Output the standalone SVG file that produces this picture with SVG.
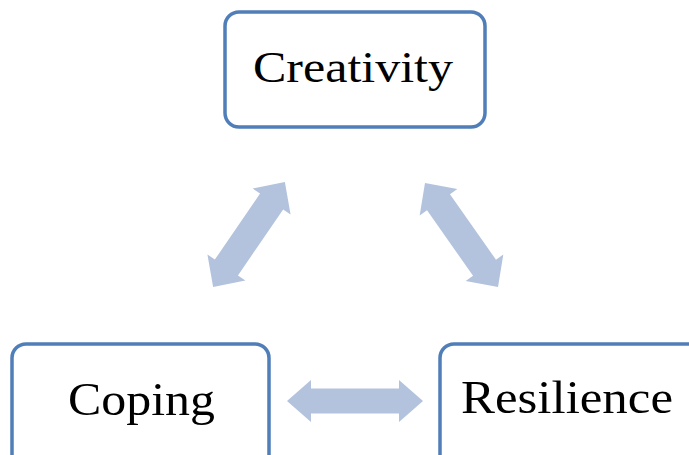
<svg xmlns="http://www.w3.org/2000/svg" width="689" height="455" viewBox="0 0 689 455">
<style>
.box{fill:#FFFFFF;stroke:#4F7EB8;stroke-width:3.5}
.lbl{font-family:"Liberation Serif","Times New Roman",serif;fill:#000000;text-anchor:middle}
.arr{fill:#B3C3DD;stroke:none}
</style>
<defs>
<polygon id="dbl" points="-68,0 -44,-21 -44,-12.5 44,-12.5 44,-21 68,0 44,21 44,12.5 -44,12.5 -44,21"/>
<polygon id="diag" points="-63.5,0 -40,-23 -40,-14 40,-14 40,-23 63.5,0 40,23 40,14 -40,14 -40,23"/>
</defs>
<rect width="689" height="455" fill="#FFFFFF"/>
<g id="connectors">
<use href="#dbl" class="arr" transform="translate(355,401)"/>
<use href="#diag" class="arr" transform="translate(249,234.5) rotate(-55.6)"/>
<use href="#diag" class="arr" transform="translate(461.5,235) rotate(54.9)"/>
</g>
<g id="creativity">
<rect class="box" x="225" y="12" width="260" height="115" rx="14"/>
<text class="lbl" x="353" y="82" font-size="44" textLength="200" lengthAdjust="spacingAndGlyphs">Creativity</text>
</g>
<g id="coping">
<rect class="box" x="12" y="344" width="257" height="130" rx="14"/>
<text class="lbl" x="141.5" y="415" font-size="47" textLength="147" lengthAdjust="spacingAndGlyphs">Coping</text>
</g>
<g id="resilience">
<rect class="box" x="440" y="344" width="262" height="130" rx="14"/>
<text class="lbl" x="567" y="413" font-size="47" textLength="212" lengthAdjust="spacingAndGlyphs">Resilience</text>
</g>
</svg>
